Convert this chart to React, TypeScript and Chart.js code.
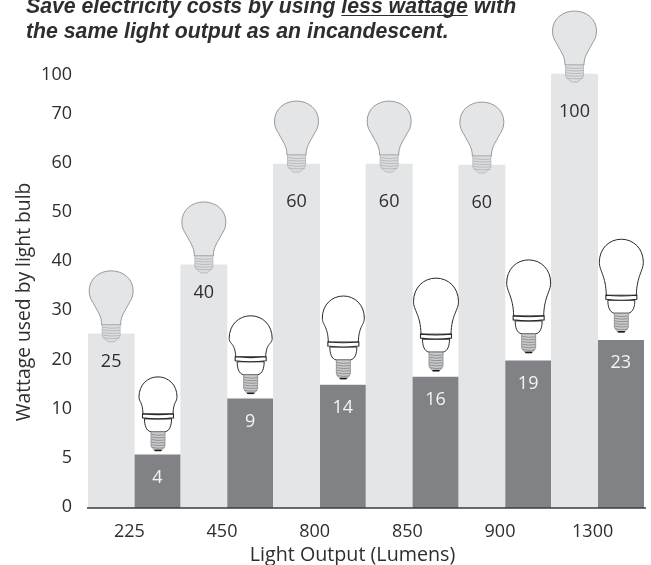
import React, { useEffect, useRef } from "react";
import { Chart, registerables } from "chart.js";

Chart.register(...registerables);

// ---- Data ----
const lumens = ["225", "450", "800", "850", "900", "1300"];
// The printed axis is not evenly valued: each label sits at a fixed step along the axis.
const yTickLabels = ["0", "5", "10", "20", "30", "40", "50", "60", "70", "100"];
const yTickSteps = [0, 1, 2, 3, 4, 5, 6, 7, 8, 8.78];
// Printed wattage of each bar
const incandescentWatts = [25, 40, 60, 60, 60, 100];
const cflWatts = [4, 9, 14, 16, 19, 23];
// Bar heights measured along that axis
const incandescentHeights = [3.54, 4.94, 6.99, 6.99, 6.97, 8.82];
const cflHeights = [1.08, 2.22, 2.5, 2.66, 2.99, 3.41];
// CFL bulb drawing sizes
const cflBulbWidths = [38, 43, 42, 45, 44, 44];
const cflBulbHeights = [74, 78, 83, 93, 93, 93];
const cflBulbGaps = [4, 5, 6, 6, 8, 8];

const titleLines = [
  "Save electricity costs by using less wattage with",
  "the same light output as an incandescent.",
];
const underlined = "less wattage";
const yAxisTitle = "Wattage used by light bulb";
const xAxisTitle = "Light Output (Lumens)";

const LIGHT = "#e4e5e7";
const DARK = "#808285";
const TEXT = "#2f2d2e";
const SANS = '"Open Sans", sans-serif';
const TITLE_FONT = 'italic bold 21.25px "Liberation Sans", sans-serif';
const LABEL_FONT = `18px ${SANS}`;
const STEP_PX = 49.2;

function threads(ctx: CanvasRenderingContext2D, cx: number, half: number, from: number, to: number) {
  ctx.beginPath();
  for (let y = from; y < to; y += 2.6) {
    ctx.moveTo(cx - half + 0.5, y);
    ctx.quadraticCurveTo(cx, y + 1.6, cx + half - 0.5, y + 0.4);
  }
  ctx.stroke();
}

function incandescentBulb(ctx: CanvasRenderingContext2D, cx: number, bottom: number) {
  const top = bottom - 71;
  const neck = top + 54;
  ctx.save();
  ctx.beginPath();
  ctx.moveTo(cx - 9.5, neck);
  ctx.bezierCurveTo(cx - 9.5, top + 45, cx - 13.5, top + 41, cx - 17.5, top + 33);
  ctx.bezierCurveTo(cx - 20, top + 29, cx - 22, top + 26, cx - 22, top + 20);
  ctx.bezierCurveTo(cx - 22, top + 8, cx - 12, top, cx, top);
  ctx.bezierCurveTo(cx + 12, top, cx + 22, top + 8, cx + 22, top + 20);
  ctx.bezierCurveTo(cx + 22, top + 26, cx + 20, top + 29, cx + 17.5, top + 33);
  ctx.bezierCurveTo(cx + 13.5, top + 41, cx + 9.5, top + 45, cx + 9.5, neck);
  ctx.closePath();
  ctx.fillStyle = LIGHT;
  ctx.fill();
  ctx.strokeStyle = "#8d8e90";
  ctx.lineWidth = 0.9;
  ctx.stroke();
  // screw base
  ctx.beginPath();
  ctx.moveTo(cx - 9, neck);
  ctx.lineTo(cx + 9, neck);
  ctx.lineTo(cx + 9, bottom - 6);
  ctx.quadraticCurveTo(cx + 6, bottom - 2, cx + 3, bottom);
  ctx.lineTo(cx - 3, bottom);
  ctx.quadraticCurveTo(cx - 6, bottom - 2, cx - 9, bottom - 6);
  ctx.closePath();
  ctx.fillStyle = "#dcdde0";
  ctx.fill();
  ctx.strokeStyle = "#a9aaac";
  ctx.lineWidth = 0.7;
  ctx.stroke();
  threads(ctx, cx, 9, neck + 2.5, bottom - 4);
  ctx.restore();
}

function cflBulb(ctx: CanvasRenderingContext2D, cx: number, bottom: number, w: number, h: number) {
  const top = bottom - h;
  const bandTop = bottom - 37;
  const bandBottom = bottom - 32;
  const collarBottom = bottom - 19;
  const half = w / 2;
  const bh = 15.5;
  const cy = top + half * 1.05;
  const d = bandTop - top;
  ctx.save();
  ctx.strokeStyle = "#2a2829";
  ctx.fillStyle = "#ffffff";
  ctx.lineWidth = 1;
  // dome
  ctx.beginPath();
  ctx.moveTo(cx - bh + 0.5, bandTop);
  ctx.bezierCurveTo(cx - bh, bandTop - d * 0.35, cx - half, cy + d * 0.15, cx - half, cy);
  ctx.bezierCurveTo(cx - half, top + half * 0.42, cx - half * 0.55, top, cx, top);
  ctx.bezierCurveTo(cx + half * 0.55, top, cx + half, top + half * 0.42, cx + half, cy);
  ctx.bezierCurveTo(cx + half, cy + d * 0.15, cx + bh, bandTop - d * 0.35, cx + bh - 0.5, bandTop);
  ctx.closePath();
  ctx.fill();
  ctx.stroke();
  // collar
  ctx.beginPath();
  ctx.moveTo(cx - 13.5, bandBottom);
  ctx.bezierCurveTo(cx - 13.5, bandBottom + 6, cx - 12, collarBottom - 1, cx - 7, collarBottom);
  ctx.lineTo(cx + 7, collarBottom);
  ctx.bezierCurveTo(cx + 12, collarBottom - 1, cx + 13.5, bandBottom + 6, cx + 13.5, bandBottom);
  ctx.closePath();
  ctx.fill();
  ctx.stroke();
  // band
  ctx.beginPath();
  ctx.moveTo(cx - bh, bandTop);
  ctx.quadraticCurveTo(cx, bandTop + 1.6, cx + bh, bandTop);
  ctx.lineTo(cx + bh, bandBottom - 1);
  ctx.quadraticCurveTo(cx, bandBottom + 1, cx - bh, bandBottom - 1);
  ctx.closePath();
  ctx.fill();
  ctx.lineWidth = 1.1;
  ctx.stroke();
  // screw base
  ctx.fillStyle = "#c9cacc";
  ctx.strokeStyle = "#77787b";
  ctx.lineWidth = 0.7;
  ctx.beginPath();
  ctx.moveTo(cx - 7, collarBottom);
  ctx.lineTo(cx + 7, collarBottom);
  ctx.lineTo(cx + 7, bottom - 5);
  ctx.quadraticCurveTo(cx + 5, bottom - 2, cx + 3, bottom);
  ctx.lineTo(cx - 3, bottom);
  ctx.quadraticCurveTo(cx - 5, bottom - 2, cx - 7, bottom - 5);
  ctx.closePath();
  ctx.fill();
  ctx.stroke();
  threads(ctx, cx, 7, collarBottom + 2.5, bottom - 3);
  ctx.strokeStyle = "#1c1a1b";
  ctx.lineWidth = 1.5;
  ctx.beginPath();
  ctx.moveTo(cx - 3.5, bottom - 0.5);
  ctx.lineTo(cx + 3.5, bottom - 0.5);
  ctx.stroke();
  ctx.restore();
}

const decorations = {
  id: "decorations",
  afterDatasetsDraw(chart: any) {
    const { ctx, scales } = chart;
    const x = scales.x;
    const y = scales.y;
    const base = y.getPixelForValue(0);

    // axis line
    ctx.save();
    ctx.strokeStyle = "#3d3b3c";
    ctx.lineWidth = 1.5;
    ctx.beginPath();
    ctx.moveTo(x.left - 1, base);
    ctx.lineTo(x.right + 2, base);
    ctx.stroke();

    const light = chart.getDatasetMeta(0).data;
    const dark = chart.getDatasetMeta(1).data;

    light.forEach((bar: any) => incandescentBulb(ctx, bar.x, bar.y + 8));
    dark.forEach((bar: any, i: number) =>
      cflBulb(ctx, bar.x + 0.5, bar.y - cflBulbGaps[i], cflBulbWidths[i], cflBulbHeights[i]),
    );

    // value labels
    ctx.font = LABEL_FONT;
    ctx.textAlign = "center";
    ctx.textBaseline = "middle";
    ctx.fillStyle = TEXT;
    light.forEach((bar: any, i: number) => {
      const drop = incandescentWatts[i] < 50 ? 28 : 37.5;
      ctx.fillText(String(incandescentWatts[i]), bar.x, bar.y + drop);
    });
    ctx.fillStyle = "#f4f4f5";
    dark.forEach((bar: any, i: number) => {
      ctx.fillText(String(cflWatts[i]), bar.x, bar.y + 23);
    });

    // axis titles
    ctx.fillStyle = TEXT;
    ctx.font = `19.7px ${SANS}`;
    ctx.fillText(xAxisTitle, 352.5, 555.5);
    ctx.font = `19.3px ${SANS}`;
    ctx.translate(25, 302);
    ctx.rotate(-Math.PI / 2);
    ctx.fillText(yAxisTitle, 0, 0);
    ctx.restore();

    // underline in the title
    ctx.save();
    ctx.font = TITLE_FONT;
    const line = titleLines[0];
    const start = 26 + ctx.measureText(line.slice(0, line.indexOf(underlined))).width;
    const width = ctx.measureText(underlined).width;
    ctx.strokeStyle = TEXT;
    ctx.lineWidth = 1;
    ctx.beginPath();
    ctx.moveTo(start, 15.5);
    ctx.lineTo(start + width, 15.5);
    ctx.stroke();
    ctx.restore();
  },
};

export default function App() {
  const ref = useRef<HTMLCanvasElement>(null);
  useEffect(() => {
    const chart = new Chart(ref.current!, {
      type: "bar",
      data: {
        labels: lumens,
        datasets: [
          { label: "Incandescent", data: incandescentHeights, backgroundColor: LIGHT },
          { label: "CFL", data: cflHeights, backgroundColor: DARK },
        ],
      },
      options: {
        responsive: false,
        animation: false,
        events: [],
        layout: { padding: { left: 26, right: 7, top: 0, bottom: 0 } },
        datasets: { bar: { barPercentage: 1, categoryPercentage: 1 } },
        plugins: {
          legend: { display: false },
          tooltip: { enabled: false },
          title: {
            display: true,
            text: titleLines,
            align: "start",
            color: TEXT,
            font: { family: '"Liberation Sans", sans-serif', size: 21.25, weight: "bold", style: "italic", lineHeight: 24.5 / 21.25 },
            padding: { top: -5, bottom: 0 },
          },
        },
        scales: {
          x: {
            grid: { display: false, drawTicks: false },
            border: { display: false },
            afterFit: (s: any) => { s.height = 57; },
            ticks: { color: TEXT, font: { family: "Open Sans", size: 18 }, padding: 13, labelOffset: -5, maxRotation: 0 },
          },
          y: {
            min: 0,
            max: 464 / STEP_PX,
            grid: { display: false, drawTicks: false },
            border: { display: false },
            afterFit: (s: any) => { s.width = 62; },
            afterBuildTicks: (s: any) => { s.ticks = yTickSteps.map((value) => ({ value })); },
            ticks: {
              color: TEXT,
              font: { family: "Open Sans", size: 18 },
              padding: 16,
              labelOffset: -1,
              autoSkip: false,
              callback: (_v: any, i: number) => yTickLabels[i],
            },
          },
        },
      },
      plugins: [decorations],
    } as any);
    return () => chart.destroy();
  }, []);
  return (
    <div style={{ position: "absolute", left: 0, top: 0, width: 651, height: 565, overflow: "hidden", background: "#fff" }}>
      <canvas ref={ref} width={651} height={565} style={{ display: "block" }} />
    </div>
  );
}
